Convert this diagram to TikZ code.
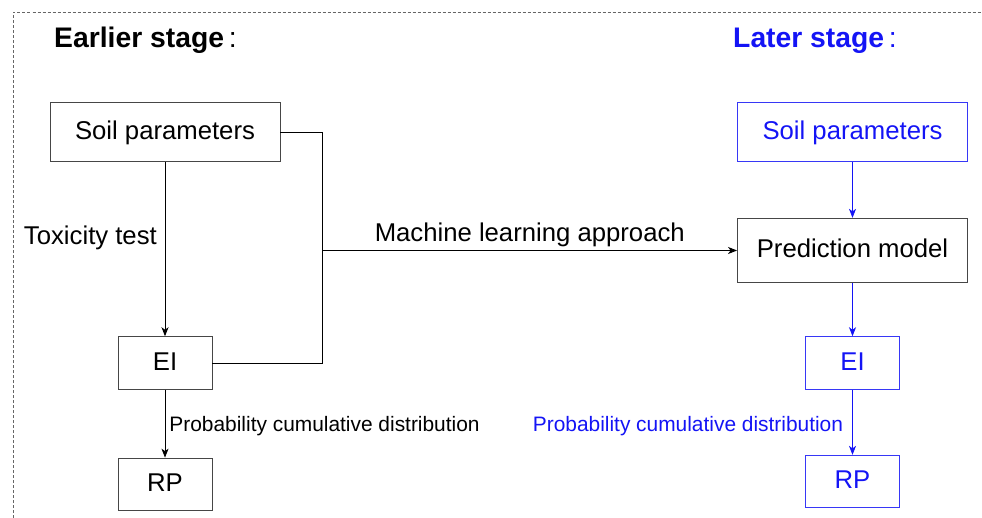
\documentclass[tikz,border=0pt]{standalone}
\usepackage{fontspec}
\setmainfont{Liberation Sans}
\usepackage{xcolor}
\usepackage{tikz}
\usetikzlibrary{arrows.meta}

\definecolor{laterblue}{RGB}{20,20,245}
\definecolor{boxgray}{RGB}{70,70,70}

\begin{document}
\begin{tikzpicture}[x=1pt,y=-1pt,
  box/.style={draw=boxgray,line width=0.9pt,inner sep=0pt,
    text height=18.5pt,text depth=3.6pt,
    font=\fontsize{25.7}{30}\selectfont},
  bluebox/.style={box,draw=laterblue!85,text=laterblue},
  arr/.style={-{Stealth[length=9pt,width=7pt,inset=2.5pt]},line width=0.9pt},
  lbl/.style={font=\fontsize{25.7}{30}\selectfont,inner sep=0pt},
  smalllbl/.style={font=\fontsize{20.9}{25}\selectfont,inner sep=4pt,yshift=-2pt},
  title/.style={font=\fontsize{28.3}{32}\selectfont,inner sep=0pt,anchor=base west}]
\useasboundingbox (0,0) rectangle (982,518);
\draw[gray!80!black,line width=0.8pt,dash pattern=on 3pt off 2pt]
  (13,518) -- (13,12.5) -- (982,12.5); % frame, cut at the right and bottom

% earlier stage
\node[title] (earlyT) at (54,48) {\textbf{Earlier stage}\,:};
\node[box,minimum width=230,minimum height=59] (soilL) at (165,132.2) {Soil parameters};
\node[box,minimum width=94,minimum height=52.6] (eiL) at (165,363) {EI};
\node[box,minimum width=94,minimum height=52.6] (rpL) at (165,484.4) {RP};
\coordinate (bend) at (322.5,0);

\draw[arr,draw=black] (soilL.south) -- (eiL.north);
\node[lbl,anchor=base east] (toxL) at (157,245) {Toxicity test};
\draw[arr] (eiL.south) -- node[smalllbl,right] (pcdL) {Probability cumulative distribution} (rpL.north);
\draw[line width=0.9pt] (soilL.east) -- (bend |- soilL.east) -- (bend |- eiL.east) -- (eiL.east);

% later stage
\node[title,text=laterblue] (lateT) at (733,48) {\textbf{Later stage}\,:};
\node[bluebox,minimum width=230,minimum height=59] (soilR) at (852.5,132.2) {Soil parameters};
\node[box,minimum width=230,minimum height=64.4] (pred) at (852.5,250.5) {Prediction model};
\node[bluebox,minimum width=94,minimum height=52.6] (eiR) at (852.5,363) {EI};
\node[bluebox,minimum width=94,minimum height=52.4] (rpR) at (852.5,481.5) {RP};

\draw[arr,laterblue] (soilR.south) -- (pred.north);
\draw[arr,laterblue] (pred.south) -- (eiR.north);
\draw[arr,laterblue] (eiR.south) -- node[smalllbl,left,text=laterblue,xshift=-5pt,yshift=-1.5pt] (pcdR) {Probability cumulative distribution} (rpR.north);

% the approach between both stages
\draw[arr] (bend |- pred.west) -- node[lbl,above=3pt] (mlT) {Machine learning approach} (pred.west);
\end{tikzpicture}
\end{document}
